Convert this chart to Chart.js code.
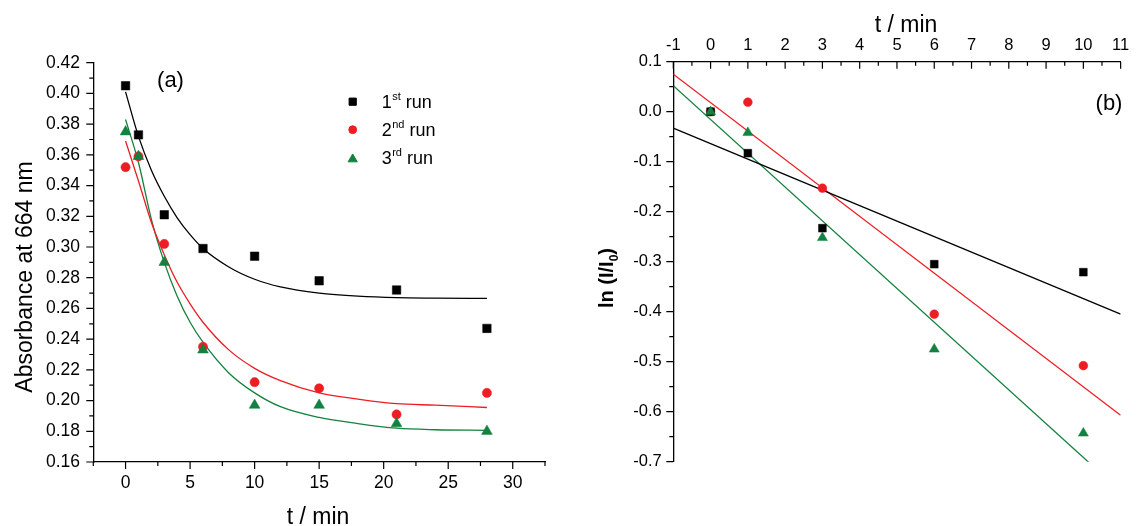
<!DOCTYPE html>
<html>
<head>
<meta charset="utf-8">
<title>Absorbance decay</title>
<script src="https://cdn.jsdelivr.net/npm/chart.js@4.4.1/dist/chart.umd.min.js"></script>
<style>
  body { margin: 0; background: #fff; }
  canvas { position: absolute; top: 0; }
</style>
</head>
<body>
<canvas id="decayChart" style="left:0" width="568" height="526"></canvas>
<canvas id="lnChart" style="left:568px" width="568" height="526"></canvas>
<script>
const FONT = "'Liberation Sans', Arial, sans-serif";

const runLabels = ['1st run', '2nd run', '3rd run'];
const runNumbers = ['1', '2', '3'];
const runSuffixes = ['st', 'nd', 'rd'];
const runColors = ['#000000', '#EE1D23', '#13813F'];
const runMarkers = ['rect', 'circle', 'triangle'];
const markerSizeA = [6, 4.6, 6.2];
const markerSizeB = [5.5, 4.4, 5.8];
// green drawn on top, then black, then red
const markerOrder = [1, 2, 0];

// (a) absorbance at 664 nm
const timeA = [0, 1, 3, 6, 10, 15, 21, 28];
const absorbance1 = [0.405, 0.373, 0.321, 0.299, 0.294, 0.278, 0.272, 0.247];
const absorbance2 = [0.352, 0.359, 0.302, 0.235, 0.212, 0.208, 0.191, 0.205];
const absorbance3 = [0.375, 0.359, 0.290, 0.233, 0.197, 0.197, 0.185, 0.180];

// exponential decay fits
const fitTimeA = [0, 1, 2, 3, 4, 5, 6, 8, 10, 12, 15, 18, 21, 24, 28];
const absorbanceFit1 = [0.401, 0.372, 0.350, 0.333, 0.319, 0.308, 0.299, 0.287, 0.279, 0.274, 0.270, 0.268, 0.267, 0.2667, 0.2665];
const absorbanceFit2 = [0.369, 0.343, 0.316, 0.295, 0.277, 0.263, 0.251, 0.233, 0.221, 0.213, 0.205, 0.201, 0.198, 0.197, 0.1955];
const absorbanceFit3 = [0.383, 0.355, 0.318, 0.290, 0.268, 0.251, 0.238, 0.218, 0.205, 0.196, 0.189, 0.185, 0.182, 0.181, 0.1806];

const absTicks = [0.16, 0.18, 0.20, 0.22, 0.24, 0.26, 0.28, 0.30, 0.32, 0.34, 0.36, 0.38, 0.40, 0.42];
const timeTicksA = [0, 5, 10, 15, 20, 25, 30];

// (b) ln(I/I0)
const timeB = [0, 1, 3, 6, 10];
const lnRatio1 = [0.000, -0.083, -0.233, -0.305, -0.321];
const lnRatio2 = [0.000, 0.019, -0.153, -0.405, -0.508];
const lnRatio3 = [0.000, -0.042, -0.252, -0.475, -0.643];

// linear fits
const lnFitTime1 = [-1, 11];
const lnFit1 = [-0.033, -0.405];
const lnFitTime2 = [-1, 11];
const lnFit2 = [0.075, -0.607];
const lnFitTime3 = [-1, 10.2];
const lnFit3 = [0.052, -0.705];

const lnTicks = [0.1, 0.0, -0.1, -0.2, -0.3, -0.4, -0.5, -0.6, -0.7];
const timeTicksB = [-1, 0, 1, 2, 3, 4, 5, 6, 7, 8, 9, 10, 11];

const pts = (xs, ys) => xs.map((x, i) => ({ x: x, y: ys[i] }));

function markerSet(i, xs, ys, sizes) {
  return {
    label: runLabels[i],
    data: pts(xs, ys),
    pointStyle: runMarkers[i],
    pointRadius: sizes[i],
    pointBackgroundColor: runColors[i],
    pointBorderColor: runColors[i],
    pointBorderWidth: 0.5,
    showLine: false,
    order: markerOrder[i]
  };
}

function fitSet(i, xs, ys, curved) {
  return {
    label: runLabels[i] + ' fit',
    data: pts(xs, ys),
    showLine: true,
    pointRadius: 0,
    borderColor: runColors[i],
    borderWidth: 1.3,
    cubicInterpolationMode: curved ? 'monotone' : 'default',
    tension: 0,
    fill: false,
    order: 5
  };
}

// short major / minor tick marks along the axes
function tickMarks(specs) {
  return {
    id: 'tickMarks',
    afterDraw(chart) {
      const { ctx, chartArea } = chart;
      ctx.save();
      ctx.strokeStyle = '#000';
      ctx.lineWidth = 1.2;
      ctx.beginPath();
      specs.forEach(sp => {
        const scale = chart.scales[sp.axis];
        const n = Math.round((sp.to - sp.from) / sp.step);
        for (let i = 0; i <= n; i++) {
          const v = sp.from + i * sp.step;
          const major = Math.abs(v / sp.major - Math.round(v / sp.major)) < 1e-6;
          const len = (major ? 7 : 4) * sp.dir;
          const p = scale.getPixelForValue(v);
          if (sp.edge === 'left') {
            ctx.moveTo(chartArea.left, p);
            ctx.lineTo(chartArea.left + len, p);
          } else {
            const y0 = sp.edge === 'top' ? chartArea.top : chartArea.bottom;
            ctx.moveTo(p, y0);
            ctx.lineTo(p, y0 + len);
          }
        }
      });
      ctx.stroke();
      ctx.restore();
    }
  };
}

function textLayer(draw) {
  return {
    id: 'textLayer',
    afterDraw(chart) {
      const ctx = chart.ctx;
      ctx.save();
      ctx.fillStyle = '#000';
      draw(ctx, chart);
      ctx.restore();
    }
  };
}

const tickFontA = { family: FONT, size: 17.5 };
const tickFontB = { family: FONT, size: 16.5 };

const decayChart = new Chart(document.getElementById('decayChart'), {
  type: 'scatter',
  data: {
    datasets: [
      markerSet(0, timeA, absorbance1, markerSizeA),
      markerSet(1, timeA, absorbance2, markerSizeA),
      markerSet(2, timeA, absorbance3, markerSizeA),
      fitSet(0, fitTimeA, absorbanceFit1, true),
      fitSet(1, fitTimeA, absorbanceFit2, true),
      fitSet(2, fitTimeA, absorbanceFit3, true)
    ]
  },
  options: {
    responsive: false,
    animation: false,
    events: [],
    layout: { padding: { left: 0, top: 62.7, right: 23, bottom: 0 } },
    plugins: { legend: { display: false }, tooltip: { enabled: false } },
    scales: {
      x: {
        type: 'linear', position: 'bottom', min: -2.5, max: 32.5,
        afterBuildTicks: s => { s.ticks = timeTicksA.map(v => ({ value: v })); },
        afterFit: s => { s.height = 64; },
        grid: { display: false, tickLength: 6 },
        border: { color: '#000', width: 1.3 },
        ticks: { autoSkip: false, maxRotation: 0, padding: 4.2, color: '#000', font: tickFontA,
                 callback: v => String(v) }
      },
      y: {
        type: 'linear', position: 'left', min: 0.16, max: 0.42,
        afterBuildTicks: s => { s.ticks = absTicks.map(v => ({ value: v })); },
        afterFit: s => { s.width = 93.3; },
        grid: { display: false, tickLength: 7 },
        border: { color: '#000', width: 1.3 },
        ticks: { autoSkip: false, padding: 6.3, color: '#000', font: tickFontA,
                 callback: v => v.toFixed(2) }
      }
    }
  },
  plugins: [
    tickMarks([
      { axis: 'x', edge: 'bottom', from: -2.5, to: 32.5, step: 2.5, major: 5, dir: 1 },
      { axis: 'y', edge: 'left', from: 0.16, to: 0.42, step: 0.01, major: 0.02, dir: -1 }
    ]),
    textLayer(ctx => {
      ctx.textAlign = 'center';
      ctx.textBaseline = 'alphabetic';
      ctx.font = `23px ${FONT}`;
      ctx.fillText('t / min', 318, 524);
      ctx.save();
      ctx.translate(31.5, 277);
      ctx.rotate(-Math.PI / 2);
      ctx.fillText('Absorbance at 664 nm', 0, 0);
      ctx.restore();
      ctx.font = `22px ${FONT}`;
      ctx.fillText('(a)', 170.5, 87);

      // legend with superscript ordinals
      ctx.textAlign = 'left';
      runNumbers.forEach((num, i) => {
        const y = 101.7 + i * 28;
        ctx.fillStyle = runColors[i];
        ctx.strokeStyle = runColors[i];
        const my = runMarkers[i] === 'triangle' ? y + 1.5 : y;
        Chart.helpers.drawPoint(ctx, { pointStyle: runMarkers[i], radius: markerSizeA[i] * 0.85, rotation: 0, borderWidth: 0.5 }, 352.7, my);
        ctx.fillStyle = '#000';
        const base = y + 6.6;
        let x = 381.7;
        ctx.font = `18px ${FONT}`;
        ctx.fillText(num, x, base);
        x += ctx.measureText(num).width + 0.5;
        ctx.font = `11px ${FONT}`;
        ctx.fillText(runSuffixes[i], x, base - 8);
        x += ctx.measureText(runSuffixes[i]).width;
        ctx.font = `18px ${FONT}`;
        ctx.fillText(' run', x, base);
      });
    })
  ]
});

const lnChart = new Chart(document.getElementById('lnChart'), {
  type: 'scatter',
  data: {
    datasets: [
      markerSet(0, timeB, lnRatio1, markerSizeB),
      markerSet(1, timeB, lnRatio2, markerSizeB),
      markerSet(2, timeB, lnRatio3, markerSizeB),
      fitSet(0, lnFitTime1, lnFit1, false),
      fitSet(1, lnFitTime2, lnFit2, false),
      fitSet(2, lnFitTime3, lnFit3, false)
    ]
  },
  options: {
    responsive: false,
    animation: false,
    events: [],
    layout: { padding: { left: 0, top: 0, right: 10, bottom: 64.3 } },
    plugins: { legend: { display: false }, tooltip: { enabled: false } },
    scales: {
      x: {
        type: 'linear', position: 'top', min: -1, max: 11,
        afterBuildTicks: s => { s.ticks = timeTicksB.map(v => ({ value: v })); },
        afterFit: s => { s.height = 61.7; },
        grid: { display: false, drawTicks: false },
        border: { color: '#000', width: 1.3 },
        ticks: { autoSkip: false, maxRotation: 0, padding: 6.8, color: '#000', font: tickFontB,
                 callback: v => String(v) }
      },
      y: {
        type: 'linear', position: 'left', min: -0.7, max: 0.1,
        afterBuildTicks: s => { s.ticks = lnTicks.map(v => ({ value: v })); },
        afterFit: s => { s.width = 105.3; },
        grid: { display: false, tickLength: 7 },
        border: { color: '#000', width: 1.3 },
        ticks: { autoSkip: false, padding: 4.6, color: '#000', font: tickFontB,
                 callback: v => v.toFixed(1) }
      }
    }
  },
  plugins: [
    tickMarks([
      { axis: 'x', edge: 'top', from: -1, to: 11, step: 0.5, major: 1, dir: 1 },
      { axis: 'y', edge: 'left', from: -0.7, to: 0.1, step: 0.05, major: 0.1, dir: -1 }
    ]),
    textLayer(ctx => {
      ctx.textAlign = 'center';
      ctx.textBaseline = 'alphabetic';
      ctx.font = `23px ${FONT}`;
      ctx.fillText('t / min', 338, 31.7);
      ctx.font = `22px ${FONT}`;
      ctx.fillText('(b)', 541, 109.5);

      // ln (I/I0) with subscript zero
      ctx.save();
      ctx.translate(45, 278);
      ctx.rotate(-Math.PI / 2);
      ctx.textAlign = 'left';
      const big = `bold 20px ${FONT}`;
      const small = `bold 12px ${FONT}`;
      ctx.font = big;
      const w1 = ctx.measureText('ln (I/I').width;
      const w3 = ctx.measureText(')').width;
      ctx.font = small;
      const w2 = ctx.measureText('0').width;
      let x = -(w1 + w2 + w3) / 2;
      ctx.font = big;
      ctx.fillText('ln (I/I', x, 0);
      x += w1;
      ctx.font = small;
      ctx.fillText('0', x, 5);
      x += w2;
      ctx.font = big;
      ctx.fillText(')', x, 0);
      ctx.restore();
    })
  ]
});
</script>
</body>
</html>
